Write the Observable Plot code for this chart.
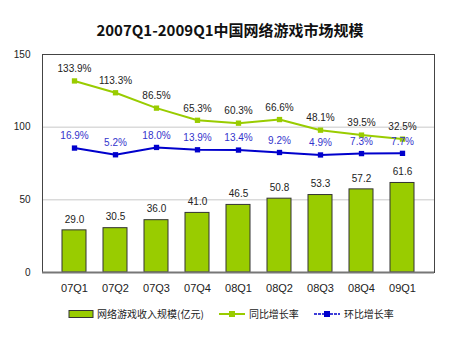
<!DOCTYPE html>
<html>
<head>
<meta charset="utf-8">
<script src="https://cdn.jsdelivr.net/npm/d3@7"></script>
<script src="https://cdn.jsdelivr.net/npm/@observablehq/plot@0.6"></script>
<style>
  body { margin: 0; background: #fff; width: 460px; height: 360px; overflow: hidden; font-family: "Liberation Sans", Arial, sans-serif; }
  #title { height: 44px; box-sizing: border-box; padding-top: 20px; text-align: center; font-family: "Noto Sans CJK SC", sans-serif; font-weight: bold; font-size: 15px; line-height: 20px; color: #111; }
  #legend { display: flex; justify-content: center; align-items: center; gap: 14px; font-family: "Noto Sans CJK SC", sans-serif; font-size: 10px; color: #222; margin-top: 12px; padding-left: 2px; }
  #legend .item { display: flex; align-items: center; gap: 3px; }
</style>
</head>
<body>
<div id="title">2007Q1-2009Q1中国网络游戏市场规模</div>
<div id="chart"></div>
<div id="legend"></div>
<script>
// ---- data ----
const quarters = ["07Q1", "07Q2", "07Q3", "07Q4", "08Q1", "08Q2", "08Q3", "08Q4", "09Q1"];
const revenue = [29.0, 30.5, 36.0, 41.0, 46.5, 50.8, 53.3, 57.2, 61.6];   // 网络游戏收入规模(亿元)
const yoy = [133.9, 113.3, 86.5, 65.3, 60.3, 66.6, 48.1, 39.5, 32.5];     // 同比增长率 (%)
const qoq = [16.9, 5.2, 18.0, 13.9, 13.4, 9.2, 4.9, 7.3, 7.7];            // 环比增长率 (%)
const leftTicks = [0, 50, 100, 150];
const leftDomain = [0, 150];
const rateDomain = [-200, 180];   // hidden secondary axis for the rates
const seriesNames = ["网络游戏收入规模(亿元)", "同比增长率", "环比增长率"];

const barColor = "#99cc00";
const yoyColor = "#99cc00";
const qoqColor = "#0000cc";

// map secondary (rate) axis onto the primary scale
const rateScale = d3.scaleLinear().domain(rateDomain).range(leftDomain);

const rows = quarters.map((q, i) => ({
  q, rev: revenue[i], yoy: yoy[i], qoq: qoq[i],
  yoyY: rateScale(yoy[i]), qoqY: rateScale(qoq[i])
}));

const plot = Plot.plot({
  width: 460,
  height: 250,
  marginTop: 10,
  marginBottom: 22,
  marginLeft: 42,
  marginRight: 26,
  style: { fontFamily: "Liberation Sans, Arial, sans-serif", fontSize: "10px", color: "#222", background: "#fff" },
  x: { domain: quarters, padding: 0.42, label: null, tickSize: 0, tickPadding: 12 },
  y: { domain: leftDomain, ticks: leftTicks, label: null, tickSize: 0, tickPadding: 12 },
  marks: [
    Plot.ruleY([50, 100], { stroke: "#c8c8c8", strokeWidth: 1 }),
    Plot.barY(rows, { x: "q", y: "rev", fill: barColor, stroke: "#333", strokeWidth: 1 }),
    Plot.text(rows, { x: "q", y: "rev", text: d => d.rev.toFixed(1), dy: -11, fontSize: 10, fill: "#222" }),
    Plot.line(rows, { x: "q", y: "yoyY", stroke: yoyColor, strokeWidth: 2 }),
    Plot.dot(rows, { x: "q", y: "yoyY", symbol: "square", r: 3, fill: yoyColor, stroke: "none" }),
    Plot.text(rows, { x: "q", y: "yoyY", text: d => d.yoy.toFixed(1) + "%", dy: -12, fontSize: 10, fill: "#222" }),
    Plot.line(rows, { x: "q", y: "qoqY", stroke: qoqColor, strokeWidth: 2 }),
    Plot.dot(rows, { x: "q", y: "qoqY", symbol: "square", r: 3, fill: qoqColor, stroke: "none" }),
    Plot.text(rows, { x: "q", y: "qoqY", text: d => d.qoq.toFixed(1) + "%", dy: -12, fontSize: 10, fill: "#3333cc" }),
    Plot.frame({ stroke: "#444", strokeWidth: 1 }),
    Plot.ruleY([0], { stroke: "#777", strokeWidth: 2 })
  ]
});
plot.querySelectorAll("[aria-label='x-axis tick label'] text").forEach(t => t.setAttribute("font-size", "11px"));
document.getElementById("chart").appendChild(plot);

// legend
const legend = document.getElementById("legend");
const swatches = [
  `<svg width="26" height="10"><rect x="1" y="1.5" width="24" height="7" fill="${barColor}" stroke="#333"/></svg>`,
  `<svg width="28" height="10"><line x1="1" x2="27" y1="5" y2="5" stroke="${yoyColor}" stroke-width="2"/><rect x="11" y="2" width="6" height="6" fill="${yoyColor}"/></svg>`,
  `<svg width="28" height="10"><line x1="1" x2="27" y1="5" y2="5" stroke="${qoqColor}" stroke-width="1.5" stroke-dasharray="3,1"/><rect x="11" y="2" width="6" height="6" fill="${qoqColor}"/></svg>`
];
seriesNames.forEach((name, i) => {
  const el = document.createElement("div");
  el.className = "item";
  el.innerHTML = swatches[i] + `<span>${name}</span>`;
  legend.appendChild(el);
});
</script>
</body>
</html>
